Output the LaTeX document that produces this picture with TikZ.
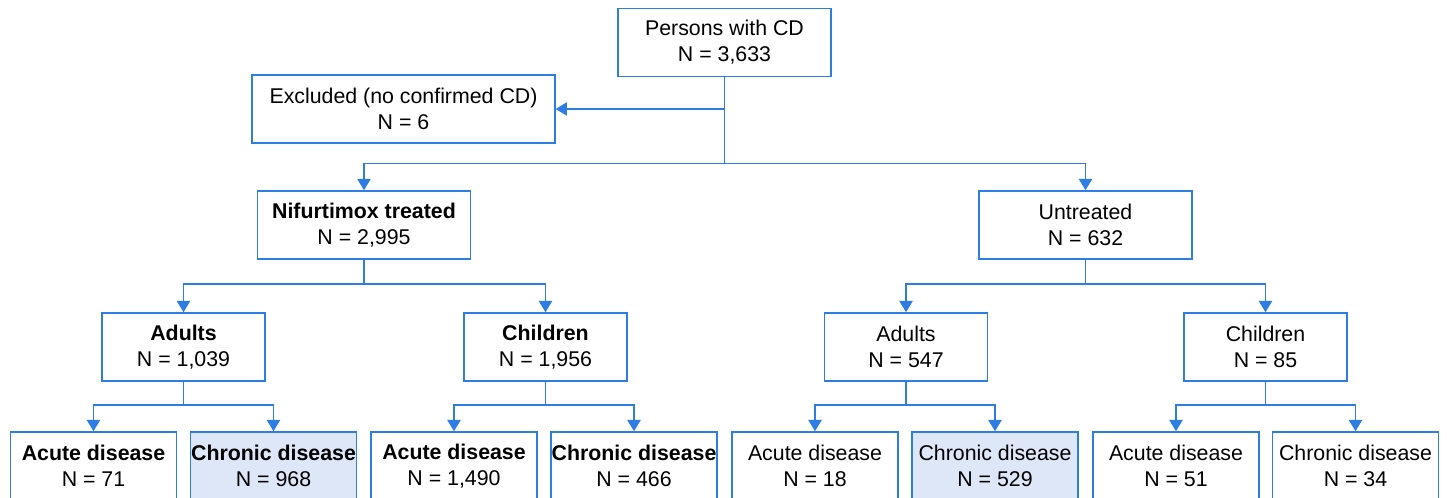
\documentclass[tikz,border=0pt]{standalone}
\usepackage{fontspec}
\setmainfont{Liberation Sans}
\usepackage{tikz}
\usetikzlibrary{arrows.meta}

\definecolor{flowblue}{RGB}{45,125,228}
\definecolor{chronicfill}{RGB}{221,231,248}

\begin{document}
\begin{tikzpicture}[x=0.75pt,y=-0.75pt,
  box/.style={draw=flowblue,line width=1.2pt,fill=white,align=center,inner sep=0pt,
    minimum height=51pt,font=\fontsize{16}{19.5}\selectfont},
  bigbox/.style={box,minimum width=160pt},
  exclbox/.style={box,minimum width=227pt},
  groupbox/.style={box,minimum width=122pt},
  leafbox/.style={box,minimum width=124.5pt},
  chronicbox/.style={leafbox,fill=chronicfill},
  link/.style={draw=flowblue,line width=1.2pt},
  arrow/.style={link,-{Triangle[width=10pt,length=8.5pt]}}]

\useasboundingbox (0,0) rectangle (1447,497);
\clip (0,0) rectangle (1447,497);

\node[bigbox] (persons) at (724.5,42.5) {Persons with CD\\N = 3,633};
\node[exclbox] (excluded) at (403.5,109) {Excluded (no confirmed CD)\\N = 6};

\node[bigbox] (treated) at (364,225) {\textbf{Nifurtimox treated}\\N = 2,995};
\node[bigbox] (untreated) at (1085.5,225) {Untreated\\N = 632};

\node[groupbox] (tadults) at (183.5,347) {\textbf{Adults}\\N = 1,039};
\node[groupbox] (tchildren) at (545.5,347) {\textbf{Children}\\N = 1,956};
\node[groupbox] (uadults) at (906,347) {Adults\\N = 547};
\node[groupbox] (uchildren) at (1265.5,347) {Children\\N = 85};

\node[leafbox] (taacute) at (93.5,466) {\textbf{Acute disease}\\N = 71};
\node[chronicbox] (tachronic) at (273.5,466) {\textbf{Chronic disease}\\N = 968};
\node[leafbox] (tcacute) at (454,466) {\textbf{Acute disease}\\N = 1,490};
\node[leafbox] (tcchronic) at (634,466) {\textbf{Chronic disease}\\N = 466};
\node[leafbox] (uaacute) at (815,466) {Acute disease\\N = 18};
\node[chronicbox] (uachronic) at (995,466) {Chronic disease\\N = 529};
\node[leafbox] (ucacute) at (1176,466) {Acute disease\\N = 51};
\node[leafbox] (ucchronic) at (1355.5,466) {Chronic disease\\N = 34};

% top split
\draw[link] (persons.south) -- ++(0,86) coordinate (topfork);
\draw[arrow] (persons.south |- excluded.east) -- (excluded.east);
\draw[arrow] (topfork) -| (treated.north);
\draw[arrow] (topfork) -| (untreated.north);

% second level
\draw[link] (treated.south) -- ++(0,24) coordinate (tfork);
\draw[arrow] (tfork) -| (tadults.north);
\draw[arrow] (tfork) -| (tchildren.north);
\draw[link] (untreated.south) -- ++(0,24) coordinate (ufork);
\draw[arrow] (ufork) -| (uadults.north);
\draw[arrow] (ufork) -| (uchildren.north);

% third level
\draw[link] (tadults.south) -- ++(0,23) coordinate (tafork);
\draw[arrow] (tafork) -| (taacute.north);
\draw[arrow] (tafork) -| (tachronic.north);
\draw[link] (tchildren.south) -- ++(0,23) coordinate (tcfork);
\draw[arrow] (tcfork) -| (tcacute.north);
\draw[arrow] (tcfork) -| (tcchronic.north);
\draw[link] (uadults.south) -- ++(0,23) coordinate (uafork);
\draw[arrow] (uafork) -| (uaacute.north);
\draw[arrow] (uafork) -| (uachronic.north);
\draw[link] (uchildren.south) -- ++(0,23) coordinate (ucfork);
\draw[arrow] (ucfork) -| (ucacute.north);
\draw[arrow] (ucfork) -| (ucchronic.north);
\end{tikzpicture}
\end{document}
